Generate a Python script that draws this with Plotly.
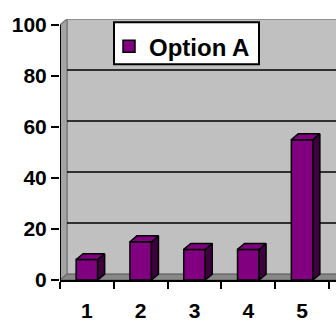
import plotly.graph_objects as go

# Data
categories = [1, 2, 3, 4, 5]
values = [8, 15, 12, 12, 55]
series_name = "Option A"
y_ticks = [0, 20, 40, 60, 80, 100]

# 3-D look: depth offset of walls and columns, in data units
DX = 0.13
DY = 2.3
BAR_W = 0.4
X0, X1 = 0.5, 5.63
Y_MAX = 100

FRONT = "#800080"
SIDE = "#3f003f"
TOP = "#800080"
WALL = "#c0c0c0"
SIDE_WALL = "#a4a4a4"
FLOOR = "#888888"
FONT = "Liberation Sans, Arial, sans-serif"

fig = go.Figure()

# front faces of the columns
fig.add_trace(go.Bar(
    x=categories, y=values, width=BAR_W, name=series_name,
    marker=dict(color=FRONT, line=dict(color="black", width=1.5)),
    showlegend=True,
))

# side and top faces of each column
for c, v in zip(categories, values):
    l, r = c - BAR_W / 2, c + BAR_W / 2
    fig.add_trace(go.Scatter(
        x=[r, r + DX, r + DX, r, r], y=[0, DY, v + DY, v, 0],
        mode="lines", fill="toself", fillcolor=SIDE,
        line=dict(color="black", width=1.5), showlegend=False, hoverinfo="skip",
    ))
    fig.add_trace(go.Scatter(
        x=[l, l + DX, r + DX, r, l], y=[v, v + DY, v + DY, v, v],
        mode="lines", fill="toself", fillcolor=TOP,
        line=dict(color="black", width=1.5), showlegend=False, hoverinfo="skip",
    ))

shapes = []
# back wall
shapes.append(dict(type="rect", xref="x", yref="y", x0=X0 + DX, x1=X1 + 1, y0=DY, y1=Y_MAX + DY,
                   fillcolor=WALL, line=dict(color="#808080", width=1.5), layer="below"))
# left wall
shapes.append(dict(type="path", xref="x", yref="y",
                   path=f"M {X0},0 L {X0 + DX},{DY} L {X0 + DX},{Y_MAX + DY} L {X0},{Y_MAX} Z",
                   fillcolor=SIDE_WALL, line=dict(color="#808080", width=1.5), layer="below"))
# floor
shapes.append(dict(type="path", xref="x", yref="y",
                   path=f"M {X0},0 L {X0 + DX},{DY} L {X1 + 1},{DY} L {X1 + 1},0 Z",
                   fillcolor=FLOOR, line=dict(color="#606060", width=1), layer="below"))
# gridlines on the back wall
for t in y_ticks[1:-1]:
    shapes.append(dict(type="line", xref="x", yref="y", x0=X0 + DX, x1=X1 + 1, y0=t + DY, y1=t + DY,
                       line=dict(color="black", width=1.5), layer="below"))
# front value axis line
shapes.append(dict(type="line", xref="x", yref="y", x0=X0, x1=X0, y0=0, y1=Y_MAX,
                   line=dict(color="black", width=2), layer="above"))
# legend frame
shapes.append(dict(type="rect", xref="paper", yref="paper",
                   x0=(114 - 60) / 276, x1=(259 - 60) / 276,
                   y0=(286 - 65) / 267.3, y1=(286 - 22) / 267.3,
                   fillcolor="white", line=dict(color="black", width=2), layer="above"))

fig.update_layout(
    width=336, height=322,
    margin=dict(l=60, r=0, t=19, b=36),
    paper_bgcolor="white", plot_bgcolor="white",
    font=dict(family=FONT, size=21, color="black", weight="bold"),
    shapes=shapes,
    showlegend=True,
    legend=dict(
        x=(109 - 60) / 276, y=(286 - 24) / 267.3, xanchor="left", yanchor="top",
        bgcolor="rgba(0,0,0,0)", borderwidth=0, itemwidth=30,
        font=dict(family=FONT, size=24, color="black", weight="bold"),
    ),
    xaxis=dict(
        range=[X0, X1], showgrid=False, zeroline=False,
        tickvals=categories, ticktext=[str(c) for c in categories], ticks="",
        showline=True, linecolor="black", linewidth=2,
        minor=dict(tick0=0.5, dtick=1, ticks="outside", ticklen=7, tickwidth=2, tickcolor="black", showgrid=False),
        ticklabelstandoff=11,
        fixedrange=True,
    ),
    yaxis=dict(
        range=[0, Y_MAX + DY], showgrid=False, zeroline=False, showline=False,
        tickvals=y_ticks, ticks="outside", ticklen=8, tickwidth=2, tickcolor="black",
        fixedrange=True,
    ),
)

fig.write_html("out.html")
